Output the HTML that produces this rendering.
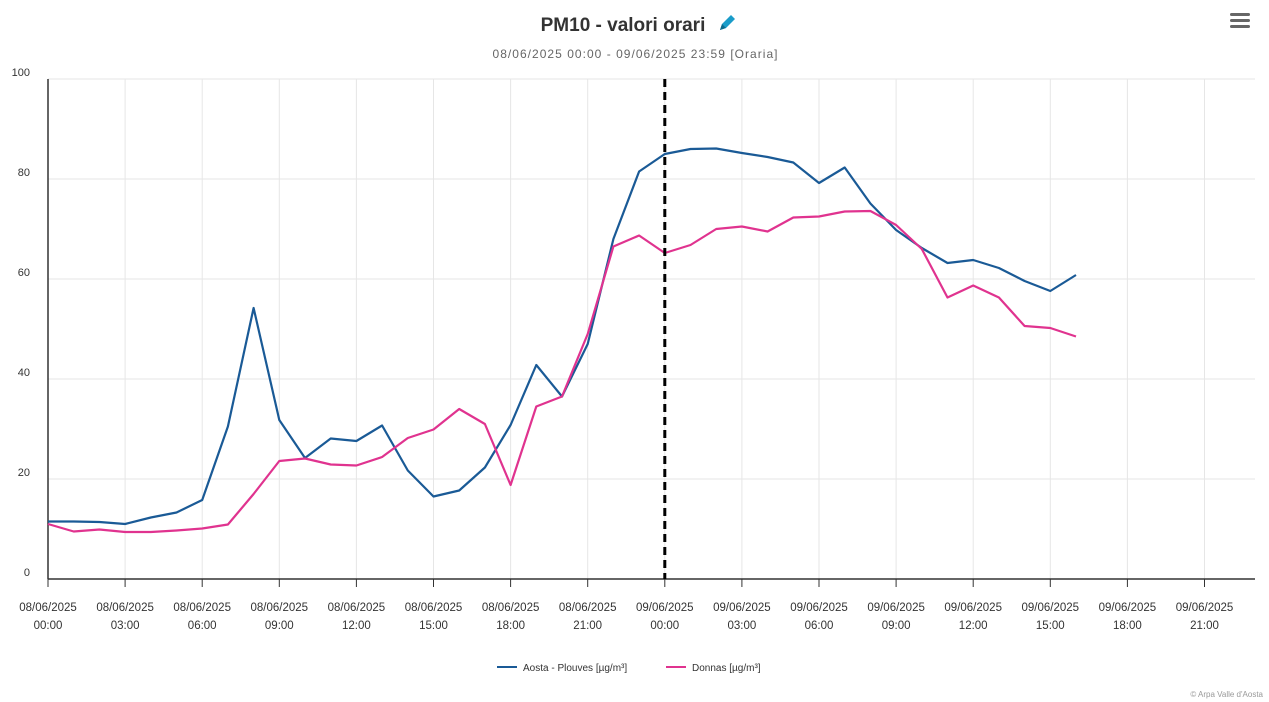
<!DOCTYPE html>
<html><head><meta charset="utf-8"><style>
html,body{margin:0;padding:0;background:#fff;width:1269px;height:702px;overflow:hidden;font-family:"Liberation Sans",sans-serif;}
svg text{font-family:"Liberation Sans",sans-serif;}
</style></head><body>
<svg id="c" width="1269" height="702" xmlns="http://www.w3.org/2000/svg">
<text x="623" y="31" text-anchor="middle" font-size="19" font-weight="bold" fill="#333">PM10 - valori orari</text>
<g transform="translate(718,14)"><path d="M2 16 L4 10 L13 1 L17 5 L8 14 Z" fill="#1a9cc9"/><path d="M2 16 L4 10 L8 14Z" fill="#0c6a8c"/></g>
<text x="635" y="58" text-anchor="middle" font-size="12" fill="#666" textLength="285">08/06/2025 00:00 - 09/06/2025 23:59 [Oraria]</text>
<g fill="#666"><rect x="1230" y="13" width="20" height="3" rx="1.5"/><rect x="1230" y="19" width="20" height="3" rx="1.5"/><rect x="1230" y="25" width="20" height="3" rx="1.5"/></g>
<g id="grid"></g>
<g id="series"></g>
<g transform="translate(497,667)"><line x1="0" y1="0" x2="20" y2="0" stroke="#1a5a96" stroke-width="2"/><text x="26" y="4" font-size="10" fill="#333">Aosta - Plouves [µg/m³]</text></g>
<g transform="translate(666,667)"><line x1="0" y1="0" x2="20" y2="0" stroke="#e0338f" stroke-width="2"/><text x="26" y="4" font-size="10" fill="#333">Donnas [µg/m³]</text></g>
<text x="1263" y="697" text-anchor="end" font-size="8" fill="#999">© Arpa Valle d'Aosta</text>
</svg>
<script>
var NS="http://www.w3.org/2000/svg",g=document.getElementById("grid"),s=document.getElementById("series");
function el(t,a,p,txt){var e=document.createElementNS(NS,t);for(var k in a)e.setAttribute(k,a[k]);if(txt)e.textContent=txt;p.appendChild(e);return e;}
var X0=48,H=25.7,Y0=579,U=5;
for(var v=0;v<=100;v+=20){var y=Y0-v*U;if(v>0)el("line",{x1:X0,x2:1255,y1:y,y2:y,stroke:"#e6e6e6"},g);el("text",{x:30,y:y-3,"text-anchor":"end","font-size":"11",fill:"#333"},g,String(v));}
var labs=["00:00","03:00","06:00","09:00","12:00","15:00","18:00","21:00"];
for(var i=0;i<16;i++){var x=X0+i*3*H;if(i>0)el("line",{x1:x,x2:x,y1:79,y2:Y0,stroke:"#e6e6e6"},g);el("line",{x1:x,x2:x,y1:Y0,y2:Y0+8,stroke:"#333"},g);
el("text",{x:x,y:611,"text-anchor":"middle","font-size":"11.5",fill:"#333"},g,i<8?"08/06/2025":"09/06/2025");
el("text",{x:x,y:629,"text-anchor":"middle","font-size":"11.5",fill:"#333"},g,labs[i%8]);}
el("line",{x1:X0,x2:X0,y1:79,y2:Y0,stroke:"#333","stroke-width":1.5},g);
el("line",{x1:X0,x2:1255,y1:Y0,y2:Y0,stroke:"#333","stroke-width":1.5},g);
var a=[11.5,11.5,11.4,11,12.3,13.3,15.8,30.5,54.2,31.8,24.2,28.1,27.6,30.7,21.7,16.5,17.7,22.3,30.8,42.8,36.5,47,68,81.5,85,86,86.1,85.2,84.4,83.3,79.2,82.3,75.1,69.8,66.2,63.2,63.8,62.2,59.6,57.6,60.8];
var d=[11,9.5,9.9,9.4,9.4,9.7,10.1,10.9,17,23.6,24.1,22.9,22.7,24.4,28.2,29.9,34,31,18.8,34.5,36.5,49,66.5,68.7,65.2,66.8,70,70.5,69.5,72.3,72.5,73.5,73.6,70.8,66,56.3,58.7,56.3,50.6,50.2,48.5];
function pts(arr){return arr.map(function(v,i){return (X0+i*H).toFixed(1)+","+(Y0-v*U).toFixed(1)}).join(" ");}
el("polyline",{points:pts(a),fill:"none",stroke:"#1a5a96","stroke-width":2.2,"stroke-linejoin":"round"},s);
el("polyline",{points:pts(d),fill:"none",stroke:"#e0338f","stroke-width":2.2,"stroke-linejoin":"round"},s);
el("line",{x1:X0+24*H,x2:X0+24*H,y1:79,y2:Y0,stroke:"#000","stroke-width":3,"stroke-dasharray":"8,5"},s);
</script>
</body></html>
